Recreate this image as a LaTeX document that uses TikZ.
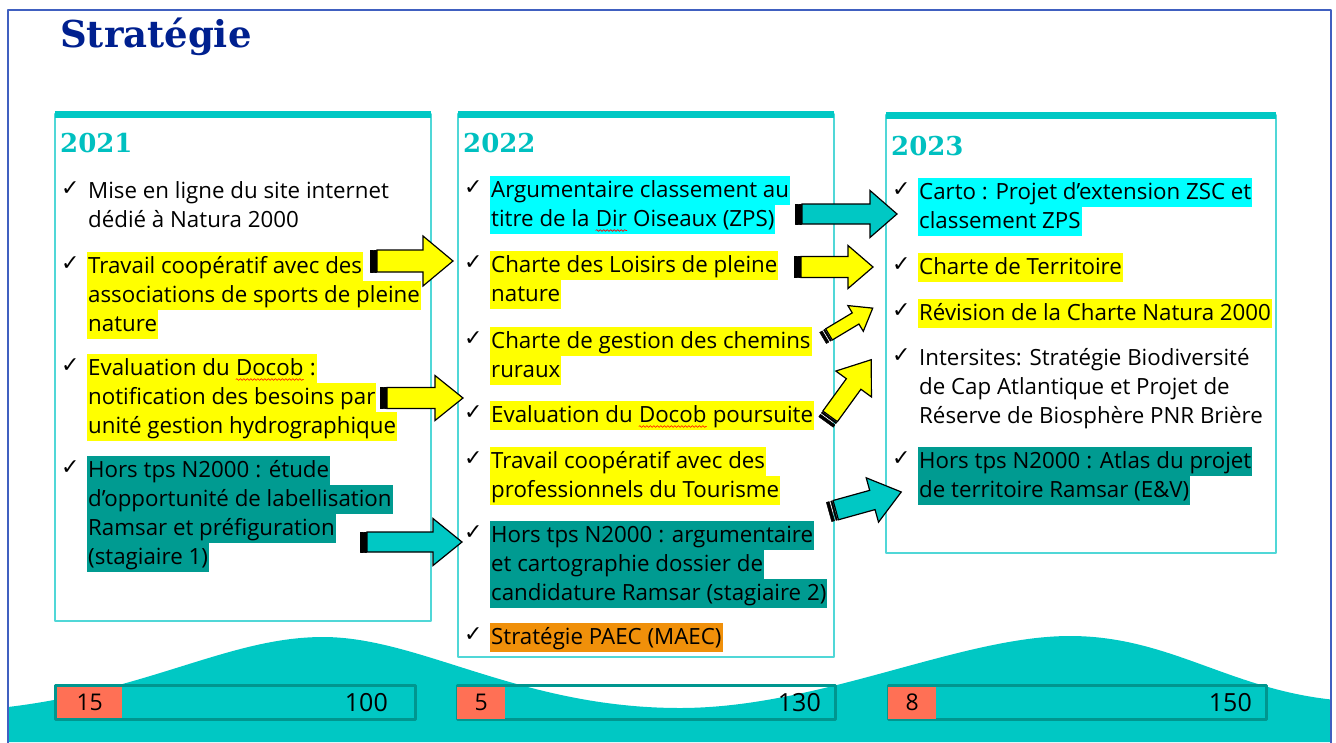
\documentclass[tikz,border=0pt]{standalone}
\usepackage{fontspec}
\setmainfont{Open Sans}
\newfontfamily\titlefont{DejaVu Serif}
\newfontfamily\checkfont{DejaVu Sans}
\usetikzlibrary{positioning,decorations.pathmorphing}

\definecolor{wave}{RGB}{0,200,196}
\definecolor{barline}{RGB}{0,150,143}
\definecolor{dkteal}{RGB}{0,155,145}
\definecolor{hlcyan}{RGB}{0,255,255}
\definecolor{hlyellow}{RGB}{255,255,0}
\definecolor{hlorange}{RGB}{240,144,10}
\definecolor{salmon}{RGB}{255,112,85}
\definecolor{titleblue}{RGB}{0,32,143}
\definecolor{yearteal}{RGB}{0,192,192}
\definecolor{frameblue}{RGB}{64,96,192}
\definecolor{boxline}{RGB}{80,215,215}

% soulignement ondule rouge
\newcommand\squig[1]{\tikz[baseline=(w.base)]{%
  \node[inner sep=0pt, fill=none, anchor=base, text height=, text depth=] (w) {#1};
  \draw[red, line width=0.6pt, decorate, decoration={snake, amplitude=0.9pt, segment length=3.5pt}]
    ([yshift=-4.5pt]w.base west) -- ([yshift=-4.5pt]w.base east);}}

\tikzset{
  hl/.style={fill=#1, anchor=west, inner xsep=1pt, inner ysep=0pt,
    text height=21.5pt, text depth=7.5pt, font=\fontsize{22.3}{29}\selectfont},
  chk/.style={anchor=west, inner sep=0pt, font=\checkfont\fontsize{22}{22}\selectfont},
  year/.style={anchor=west, inner sep=0pt, text=yearteal, font=\titlefont\bfseries\fontsize{26}{26}\selectfont},
  colbox/.style={draw=boxline, line width=1.2pt, fill=white},
  topbar/.style={fill=wave},
  barbox/.style={draw=barline, line width=3pt},
  redbox/.style={fill=salmon, anchor=north west, inner sep=0pt, font=\fontsize{23}{23}\selectfont},
  val/.style={anchor=east, inner sep=0pt, font=\fontsize{25}{25}\selectfont},
  pics/barrow/.style args={#1/#2/#3/#4/#5}{code={
    \filldraw[fill=#5, draw=black, line width=1.2pt, line join=miter]
      (7,-#2) -- (#1-#4,-#2) -- (#1-#4,-#3) -- (#1,0) -- (#1-#4,#3) -- (#1-#4,#2) -- (7,#2) -- cycle;
    \filldraw[black] (0,-#2) rectangle (3,#2);
    \filldraw[black] (4.5,-#2) rectangle (6,#2);
  }}
}

% une entree : nom, x, y, couleur, lignes
\newcommand\entree[5]{%
  \node[chk] (#1) at (#2-26,#3-2) {✓};
  \foreach \ln [count=\i from 0] in {#5}
    \node[hl=#4] (#1-\i) at (#2,#3+\i*29) {\ln};
}

\begin{document}
\begin{tikzpicture}[x=1pt,y=-1pt,line join=round]
\useasboundingbox (0,0) rectangle (1336,742);
% fond
\begin{scope}
\clip (8,10) rectangle (1331,742);
\fill[wave] (8,707) .. controls (150,690) and (230,637) .. (323,637)
  .. controls (420,637) and (520,708) .. (680,708)
  .. controls (820,708) and (960,636) .. (1070,636)
  .. controls (1170,636) and (1230,690) .. (1336,700)
  -- (1336,742) -- (8,742) -- cycle;
\end{scope}
\draw[frameblue, line width=1.5pt] (8,745) -- (8,10) -- (1331,10) -- (1331,745);

\node[anchor=west, inner sep=0pt, text=titleblue, font=\titlefont\bfseries\fontsize{37}{37}\selectfont] (titre) at (60,37) {Stratégie};

% colonnes
\draw[colbox] (55,114) rectangle (431,621);
\fill[topbar] (55,111) rectangle (431,118);
\draw[colbox] (458,114) rectangle (834,657);
\fill[topbar] (458,111) rectangle (834,118);
\draw[colbox] (886,115) rectangle (1276,553);
\fill[topbar] (886,112) rectangle (1276,119);

\node[year] (y1) at (60,143) {2021};
\node[year] (y2) at (463,143) {2022};
\node[year] (y3) at (891,146) {2023};

% 2021
\entree{a1}{87}{191}{none}{Mise en ligne du site internet, dédié à Natura 2000}
\entree{a2}{87}{266}{hlyellow}{Travail coopératif avec des, associations de sports de pleine, nature}
\entree{a3}{87}{368}{hlyellow}{Evaluation du \squig{Docob} :, notification des besoins par, unité gestion hydrographique}
\entree{a4}{87}{470}{dkteal}{Hors tps N2000 : étude, d’opportunité de labellisation, Ramsar et préfiguration, (stagiaire 1)}

% 2022
\entree{b1}{490}{190}{hlcyan}{Argumentaire classement au, titre de la \squig{Dir} Oiseaux (ZPS)}
\entree{b2}{490}{265}{hlyellow}{Charte des Loisirs de pleine, nature}
\entree{b3}{490}{341}{hlyellow}{Charte de gestion des chemins, ruraux}
\entree{b4}{490}{415}{hlyellow}{Evaluation du \squig{Docob} poursuite}
\entree{b5}{490}{461}{hlyellow}{Travail coopératif avec des, professionnels du Tourisme}
\entree{b6}{490}{535}{dkteal}{Hors tps N2000 : argumentaire, et cartographie dossier de, candidature Ramsar (stagiaire 2)}
\entree{b7}{490}{637}{hlorange}{Stratégie PAEC (MAEC)}

% 2023
\entree{c1}{918}{192}{hlcyan}{Carto : Projet d’extension ZSC et, classement ZPS}
\entree{c2}{918}{267}{hlyellow}{Charte de Territoire}
\entree{c3}{918}{313}{hlyellow}{Révision de la Charte Natura 2000}
\entree{c4}{918}{358}{none}{Intersites: Stratégie Biodiversité, de Cap Atlantique et Projet de, Réserve de Biosphère PNR Brière}
\entree{c5}{918}{461}{dkteal}{Hors tps N2000 : Atlas du projet, de territoire Ramsar (E\&V)}

% fleches
\pic at (370,261) {barrow={83/11/25/30/hlyellow}};
\pic at (380,398) {barrow={83/10.5/22.5/28/hlyellow}};
\pic at (360,542) {barrow={102/10/23.5/29/wave}};
\pic at (795,214) {barrow={102/10/23.5/27/wave}};
\pic at (794,267) {barrow={79/10.5/21.5/25/hlyellow}};
\pic[rotate=31] at (823,338) {barrow={58/6.5/15/20/hlyellow}};
\pic[rotate=54] at (826,422) {barrow={77/9/22/30/hlyellow}};
\pic[rotate=15.5] at (829,512) {barrow={75/10/23/30/wave}};

% barres du bas
\draw[barbox] (55,685) rectangle (415,719);
\node[redbox, minimum width=65pt, minimum height=31pt] (n1) at (57,686.5) {15};
\node[val] (v1) at (388,703) {100};
\draw[barbox] (457,685) rectangle (835,719);
\node[redbox, minimum width=48pt, minimum height=32pt] (n2) at (457,686.5) {5};
\node[val] (v2) at (821,703) {130};
\draw[barbox] (888,685) rectangle (1266,719);
\node[redbox, minimum width=48pt, minimum height=32pt] (n3) at (888,686.5) {8};
\node[val] (v3) at (1252,703) {150};
\end{tikzpicture}
\end{document}
